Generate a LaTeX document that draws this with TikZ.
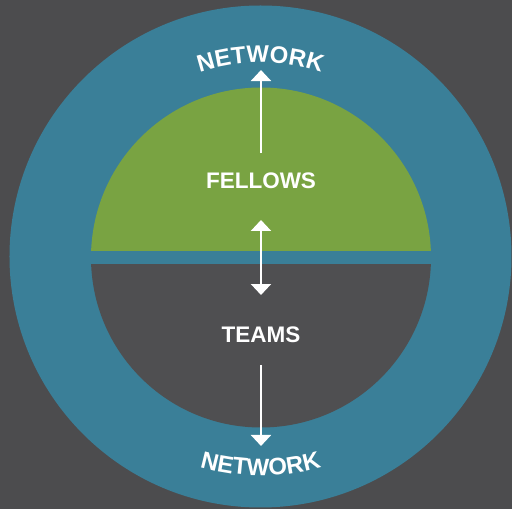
\documentclass[tikz,border=0pt]{standalone}
\usepackage{fontspec}
\setmainfont{Liberation Sans}
\usepackage{tikz}
\usetikzlibrary{arrows.meta, decorations.text, positioning}
\definecolor{bggray}{RGB}{76,76,78}
\definecolor{ringblue}{RGB}{58,127,152}
\definecolor{fellowgreen}{RGB}{121,163,66}
\definecolor{teamgray}{RGB}{79,79,81}
\tikzset{
	label/.style={text=white, font=\bfseries\fontsize{16}{18}\selectfont},
	link/.style={white, line width=1.6pt, -{Triangle[width=14.2pt, length=7.8pt]}},
	biglink/.style={link, {Triangle[width=14.2pt, length=7.8pt]}-{Triangle[width=14.2pt, length=7.8pt]}}
}

\begin{document}
\begin{tikzpicture}[scale=0.025]
		\fill[bggray] (-260.5,-252.5) rectangle (251.5,256.5);
		\useasboundingbox (-260.5,-252.5) rectangle (251.5,256.5);
		\fill[ringblue] (0,0) circle [radius=251];
		% inner halves, cut by the blue band
		\begin{scope}
			\clip (0.5,-1) circle [radius=170];
			\fill[fellowgreen] (-180,5.5) rectangle (180,180);
			\fill[teamgray] (-180,-7.8) rectangle (180,-180);
		\end{scope}
		
		% labels:
		\node[label] (fellows) at (0.5,75.5) {FELLOWS};
		\node[label] (teams) at (0.5,-78.5) {TEAMS};
		\path[decorate, decoration={text along path, text align=center,
			text={|\color{white}\bfseries\fontsize{17}{18}\selectfont|NETWORK}}]
			(150:194) arc [start angle=150, end angle=30, radius=194];
		\path[decorate, decoration={text along path, text align=center,
			text={|\color{white}\bfseries\fontsize{17}{18}\selectfont|NETWORK}}]
			(210:219) arc [start angle=210, end angle=330, radius=219];
		% arrows
		\coordinate (upfrom) at (0.5,103.5);
		\coordinate (upto) at (0.5,186.5);
		\coordinate (midtop) at (0.5,36.5);
		\coordinate (midbot) at (0.5,-38.5);
		\coordinate (downfrom) at (0.5,-108.5);
		\coordinate (downto) at (0.5,-189.5);
		\draw[link] (upfrom)--(upto); %network
		\draw[biglink] (midbot)--(midtop);
		\draw[link] (downfrom)--(downto); %network
	\end{tikzpicture}
\end{document}
